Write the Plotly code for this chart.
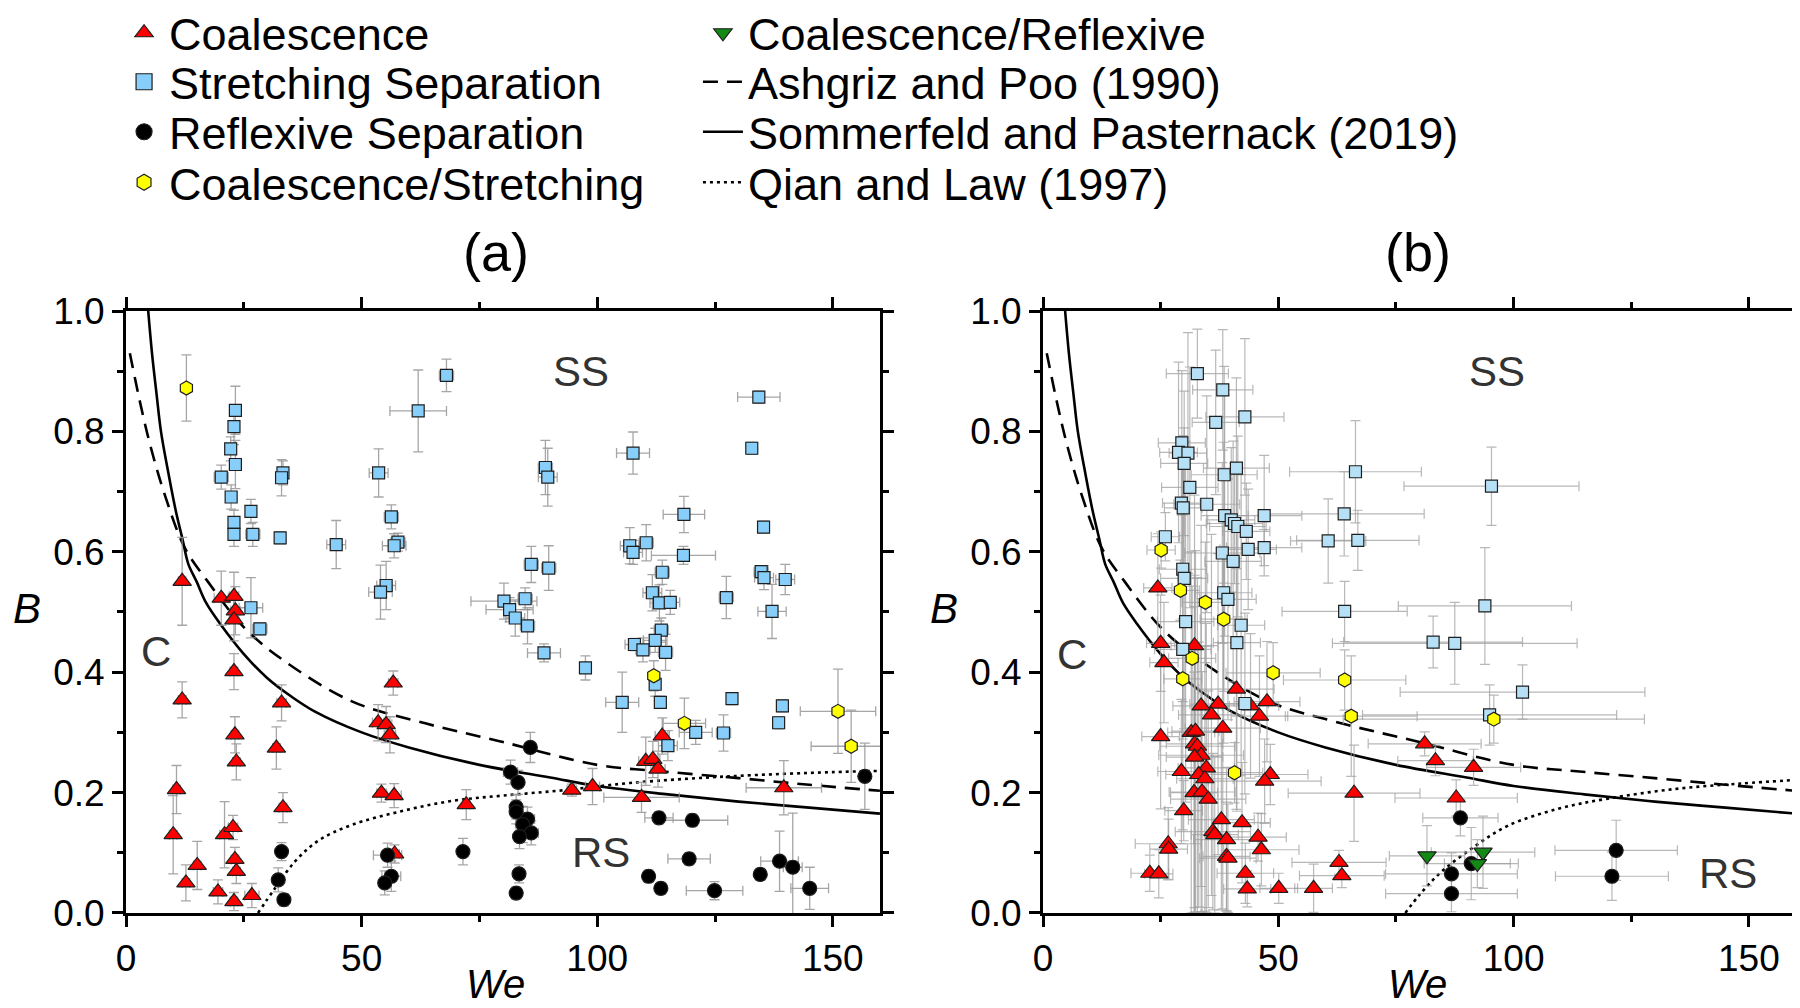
import plotly.graph_objects as go

FONT = 'Liberation Sans, Arial, sans-serif'

# ---- model curves (same in both panels except Qian & Law) ----
ashgriz_we = [0.8, 3.2, 5.3, 8.2, 12.5, 17.4, 25.2, 33.7, 47.8, 62, 80, 100, 114, 130, 145, 160]
ashgriz_b = [0.93, 0.84, 0.772, 0.695, 0.606, 0.55, 0.473, 0.418, 0.352, 0.318, 0.284, 0.246,
             0.235, 0.224, 0.213, 0.203]
sommerfeld_we = [4.7, 5.5, 6.5, 7.4, 9, 10.5, 12, 13.2, 15, 17, 20, 25, 30, 35, 40, 50, 60, 75,
                 90, 100, 115, 130, 145, 160]
sommerfeld_b = [1.0, 0.93, 0.86, 0.80, 0.73, 0.67, 0.62, 0.58, 0.55, 0.515, 0.48, 0.43, 0.39,
                0.36, 0.335, 0.30, 0.275, 0.246, 0.225, 0.211, 0.197, 0.185, 0.175, 0.165]
qian_a_we = [28.0, 31.6, 35.9, 40.8, 47.8, 58.4, 69, 80, 93, 107, 128, 150, 160]
qian_a_b = [0.0, 0.041, 0.086, 0.12, 0.146, 0.169, 0.186, 0.195, 0.204, 0.216, 0.227, 0.234, 0.236]
qian_b_we = [77, 80, 84.6, 91.8, 98.8, 109.4, 120, 134.3, 148.3, 160]
qian_b_b = [0.0, 0.03, 0.068, 0.111, 0.145, 0.173, 0.19, 0.206, 0.215, 0.221]

# ---- panel (a) ----
a_coal_we = [11.9, 20.2, 22.9, 23.2, 22.9, 22.9, 11.9, 33.0, 56.7, 53.5, 55.2, 56.0, 23.1, 31.9,
             23.4, 10.7, 33.3, 54.2, 56.9, 72.2, 10.0, 20.9, 22.7, 23.1, 23.4, 15.1, 12.7, 19.5,
             22.9, 26.7, 57.0, 113.8, 110.3, 111.8, 112.9, 94.6, 99.0, 109.4, 139.6]
a_coal_b = [0.551, 0.523, 0.526, 0.502, 0.487, 0.401, 0.354, 0.349, 0.382, 0.316, 0.313, 0.296,
            0.296, 0.274, 0.251, 0.205, 0.175, 0.199, 0.195, 0.180, 0.130, 0.130, 0.142, 0.089,
            0.069, 0.079, 0.050, 0.035, 0.019, 0.029, 0.098, 0.294, 0.252, 0.255, 0.239, 0.204,
            0.210, 0.192, 0.208]
a_coal_ex = [0.8, 1.5, 1.0, 1.0, 1.0, 0.8, 0.8, 1.0, 1.0, 1.2, 1.2, 1.2, 0.8, 0.8, 0.8, 0.8, 0.8,
             1.0, 1.5, 0.8, 0.8, 1.0, 1.0, 0.8, 0.8, 0.8, 0.8, 1.0, 0.8, 1.5, 1.0, 1.5, 1.5, 1.5,
             1.5, 1.0, 1.5, 8.0, 8.0]
a_coal_ey = [0.073, 0.045, 0.04, 0.04, 0.035, 0.03, 0.03, 0.03, 0.02, 0.03, 0.03, 0.03, 0.03,
             0.035, 0.03, 0.04, 0.025, 0.015, 0.02, 0.025, 0.065, 0.055, 0.02, 0.02, 0.02, 0.04,
             0.03, 0.02, 0.015, 0.02, 0.015, 0.03, 0.04, 0.03, 0.03, 0.01, 0.03, 0.025, 0.045]

a_ss_we = [23.2, 22.9, 22.2, 23.2, 20.2, 22.3, 26.5, 22.9, 22.9, 26.9, 32.7, 33.3, 33.0, 53.6,
           62.0, 68.0, 44.6, 56.3, 57.7, 56.9, 55.2, 54.0, 26.5, 28.4, 80.2, 81.4, 82.6, 85.2,
           84.7, 134.3, 132.8, 107.6, 89.0, 89.5, 118.4, 135.3, 106.9, 107.6, 110.4, 118.3,
           86.0, 89.7, 113.8, 134.8, 135.4, 139.9, 111.7, 113.2, 115.5, 127.4, 137.1, 113.6,
           88.7, 97.5, 112.3, 107.9, 109.7, 114.5, 112.3, 105.3, 113.4, 128.6, 139.3, 138.5,
           120.9, 126.8, 115.0]
a_ss_b = [0.835, 0.808, 0.771, 0.745, 0.724, 0.691, 0.667, 0.649, 0.629, 0.629, 0.623, 0.731,
          0.723, 0.731, 0.834, 0.893, 0.612, 0.658, 0.616, 0.610, 0.544, 0.533, 0.507, 0.472,
          0.518, 0.504, 0.490, 0.477, 0.522, 0.857, 0.772, 0.764, 0.740, 0.724, 0.662, 0.641,
          0.610, 0.599, 0.615, 0.594, 0.579, 0.573, 0.566, 0.567, 0.557, 0.554, 0.532, 0.515,
          0.516, 0.524, 0.501, 0.470, 0.432, 0.407, 0.453, 0.446, 0.437, 0.433, 0.380, 0.350,
          0.350, 0.356, 0.344, 0.316, 0.300, 0.299, 0.278]
a_ss_ex = [0.8, 0.8, 0.8, 0.8, 1.5, 0.8, 1.0, 0.8, 0.8, 1.5, 0.8, 0.8, 0.8, 2.0, 6.0, 1.5, 2.0,
           1.5, 1.5, 2.5, 2.0, 2.5, 2.5, 1.5, 7.0, 5.0, 2.0, 1.5, 1.5, 4.5, 1.0, 3.5, 1.5, 2.0,
           4.4, 1.0, 2.0, 2.0, 1.5, 6.8, 1.5, 1.5, 1.5, 1.5, 2.0, 2.0, 2.0, 2.0, 2.0, 1.5, 3.0,
           1.5, 3.5, 1.0, 2.5, 2.0, 1.5, 1.5, 1.0, 3.5, 1.0, 1.0, 1.0, 1.0, 3.5, 1.5, 2.0]
a_ss_ey = [0.04, 0.03, 0.02, 0.04, 0.02, 0.02, 0.02, 0.02, 0.02, 0.02, 0.01, 0.02, 0.03, 0.04,
           0.068, 0.027, 0.04, 0.02, 0.015, 0.02, 0.04, 0.045, 0.05, 0.01, 0.03, 0.02, 0.03,
           0.03, 0.018, 0.01, 0.01, 0.035, 0.045, 0.048, 0.03, 0.01, 0.03, 0.02, 0.03, 0.015,
           0.03, 0.037, 0.02, 0.01, 0.02, 0.025, 0.03, 0.03, 0.02, 0.035, 0.045, 0.02, 0.015,
           0.02, 0.02, 0.01, 0.02, 0.03, 0.02, 0.05, 0.01, 0.01, 0.01, 0.01, 0.02, 0.03, 0.025]

a_rs_we = [33.0, 32.3, 33.5, 55.5, 56.3, 54.9, 71.5, 81.6, 85.8, 83.2, 82.8, 82.8, 85.2, 84.2,
           86.0, 83.5, 83.4, 82.8, 113.1, 120.2, 119.5, 110.9, 113.5, 124.9, 134.6, 138.7,
           141.5, 145.1, 156.8]
a_rs_b = [0.102, 0.055, 0.022, 0.096, 0.061, 0.050, 0.102, 0.234, 0.275, 0.217, 0.176, 0.168,
          0.156, 0.147, 0.133, 0.127, 0.065, 0.033, 0.158, 0.154, 0.090, 0.061, 0.041, 0.037,
          0.064, 0.086, 0.076, 0.041, 0.227]
a_rs_ex = [0.8, 0.8, 0.8, 3.0, 2.0, 1.0, 0.8, 1.5, 1.0, 1.0, 1.0, 1.0, 1.5, 1.5, 1.5, 1.0, 1.0,
           1.0, 3.0, 7.5, 4.5, 1.0, 1.0, 6.0, 1.0, 4.0, 2.0, 4.0, 1.0]
a_rs_ey = [0.015, 0.02, 0.01, 0.02, 0.025, 0.02, 0.022, 0.02, 0.025, 0.02, 0.02, 0.02, 0.02,
           0.03, 0.02, 0.02, 0.015, 0.01, 0.01, 0.01, 0.01, 0.01, 0.01, 0.015, 0.01, 0.05, 0.09,
           0.035, 0.055]

a_cs_we = [12.8, 112.0, 118.5, 151.1, 153.9]
a_cs_b = [0.872, 0.394, 0.315, 0.335, 0.277]
a_cs_ex = [0.8, 1.0, 4.5, 8.0, 8.5]
a_cs_ey = [0.055, 0.025, 0.042, 0.07, 0.06]

# ---- panel (b) ----
b_coal_we = [24.4, 25.0, 25.7, 32.2, 41.1, 33.6, 37.2, 35.8, 38.2, 44.1, 47.6, 46.0, 25.0, 31.5,
             32.4, 32.2, 32.8, 33.6, 32.2, 29.4, 34.7, 33.1, 34.4, 48.3, 47.1, 32.1, 33.8, 35.1,
             66.1, 29.9, 37.9, 42.3, 36.1, 36.5, 39.0, 45.7, 46.4, 26.6, 26.7, 39.0, 39.3, 22.7,
             24.6, 43.0, 43.4, 50.1, 57.5, 62.9, 63.5, 81.1, 83.4, 91.5, 87.8]
b_coal_b = [0.540, 0.448, 0.416, 0.444, 0.372, 0.344, 0.347, 0.329, 0.307, 0.344, 0.351, 0.327,
            0.293, 0.300, 0.302, 0.281, 0.277, 0.262, 0.259, 0.235, 0.241, 0.230, 0.223, 0.230,
            0.219, 0.200, 0.201, 0.189, 0.199, 0.170, 0.155, 0.150, 0.135, 0.130, 0.122, 0.126,
            0.105, 0.115, 0.106, 0.094, 0.091, 0.066, 0.065, 0.066, 0.040, 0.041, 0.041, 0.084,
            0.062, 0.281, 0.253, 0.242, 0.191]
b_coal_ex = [3, 3, 3, 5, 8, 6, 6, 7, 8, 6, 7, 6, 4, 5, 5, 6, 8, 9, 6, 5, 6, 7, 6, 8, 12, 5, 7, 8,
             14, 4, 7, 6, 8, 5, 7, 6, 8, 7, 4, 5, 6, 4, 3, 6, 5, 4, 4, 10, 9, 12, 8, 10, 13]
b_coal_ey = [0.09, 0.08, 0.1, 0.25, 0.2, 0.3, 0.25, 0.3, 0.3, 0.12, 0.1, 0.1, 0.12, 0.3, 0.3,
             0.28, 0.28, 0.26, 0.25, 0.12, 0.24, 0.22, 0.22, 0.05, 0.07, 0.2, 0.2, 0.18, 0.08,
             0.05, 0.15, 0.1, 0.13, 0.13, 0.12, 0.04, 0.06, 0.06, 0.05, 0.09, 0.09, 0.03, 0.04,
             0.05, 0.03, 0.025, 0.04, 0.02, 0.02, 0.02, 0.025, 0.03, 0.03]

b_ss_we = [32.8, 38.2, 36.7, 42.9, 29.5, 28.8, 30.8, 30.0, 38.5, 41.1, 31.2, 29.4, 29.8, 34.8,
           38.6, 40.0, 40.7, 41.4, 43.2, 47.0, 64.0, 60.6, 66.9, 66.4, 26.0, 38.1, 40.4, 43.6,
           47.0, 29.7, 30.0, 38.4, 39.3, 64.1, 30.3, 42.1, 41.2, 29.7, 42.9, 82.9, 95.3, 93.9,
           87.5, 101.9, 94.9]
b_ss_b = [0.896, 0.869, 0.815, 0.824, 0.781, 0.765, 0.764, 0.747, 0.728, 0.739, 0.707, 0.681,
          0.673, 0.679, 0.660, 0.653, 0.647, 0.642, 0.634, 0.660, 0.663, 0.618, 0.619, 0.733,
          0.625, 0.598, 0.584, 0.604, 0.607, 0.571, 0.556, 0.532, 0.521, 0.501, 0.484, 0.478,
          0.449, 0.438, 0.348, 0.450, 0.709, 0.510, 0.448, 0.367, 0.329]
b_ss_ex = [6.6, 6.4, 5, 8.3, 5, 4, 4, 5, 7, 7, 6, 4, 4, 7, 5, 5, 6, 6, 5, 8, 17, 8, 13, 14, 3, 8,
           6, 6, 8, 5, 5, 6, 6, 13.3, 6, 5, 5, 6, 5, 19, 18.6, 18.4, 26, 26, 27]
b_ss_ey = [0.074, 0.1, 0.12, 0.13, 0.12, 0.15, 0.2, 0.12, 0.18, 0.15, 0.2, 0.1, 0.12, 0.18,
           0.2, 0.12, 0.1, 0.15, 0.08, 0.1, 0.07, 0.07, 0.05, 0.085, 0.04, 0.15, 0.2, 0.1, 0.03,
           0.22, 0.25, 0.25, 0.2, 0.05, 0.3, 0.25, 0.28, 0.3, 0.15, 0.043, 0.065, 0.097, 0.068,
           0.045, 0.05]

b_rs_we = [88.7, 91.0, 86.8, 86.8, 121.8, 120.9]
b_rs_b = [0.158, 0.082, 0.065, 0.032, 0.104, 0.061]
b_rs_ex = [8, 10, 14, 14, 13, 12]
b_rs_ey = [0.03, 0.06, 0.035, 0.03, 0.05, 0.04]

b_cs_we = [25.1, 29.2, 34.5, 38.4, 31.7, 29.7, 48.9, 64.1, 65.5, 40.7, 95.8]
b_cs_b = [0.603, 0.536, 0.516, 0.488, 0.423, 0.389, 0.399, 0.387, 0.327, 0.233, 0.322]
b_cs_ex = [3, 4, 5, 5, 5, 4, 10, 13, 14, 6, 32]
b_cs_ey = [0.03, 0.05, 0.1, 0.12, 0.12, 0.1, 0.05, 0.05, 0.1, 0.05, 0.04]

b_cr_we = [81.6, 93.5, 92.3]
b_cr_b = [0.095, 0.101, 0.082]
b_cr_ex = [8, 11, 7]
b_cr_ey = [0.05, 0.06, 0.04]

# tick labels
x_ticks = [0, 50, 100, 150]
y_ticks = [0.0, 0.2, 0.4, 0.6, 0.8, 1.0]

RED = '#ff0000'
SKY_A = '#87cefa'
SKY_B = '#b6e0f6'
YELLOW = '#ffff00'
GREEN = '#138a13'
EDGE = '#1e1e1e'


def add_errorbars(fig, we, b, ex, ey, xa, ya, color, thickness):
    fig.add_trace(
        go.Scatter(
            x=we,
            y=b,
            mode='markers',
            marker=dict(size=1, color='rgba(0,0,0,0)'),
            error_x=dict(type='data', array=ex, color=color, thickness=thickness, width=5),
            error_y=dict(type='data', array=ey, color=color, thickness=thickness, width=5),
            xaxis=xa,
            yaxis=ya,
            showlegend=False,
            hoverinfo='skip',
        )
    )


def add_markers(fig, we, b, name, symbol, color, size, xa, ya):
    fig.add_trace(
        go.Scatter(
            x=we,
            y=b,
            mode='markers',
            name=name,
            marker=dict(symbol=symbol, color=color, size=size, line=dict(color=EDGE, width=1.2)),
            xaxis=xa,
            yaxis=ya,
            showlegend=False,
        )
    )


def add_legend_marker(fig, name, symbol, color, legend):
    # legend-only entry (plotly caps legend marker size at 16)
    fig.add_trace(
        go.Scatter(
            x=[None],
            y=[None],
            mode='markers',
            name=name,
            marker=dict(symbol=symbol, color=color, size=16, line=dict(color=EDGE, width=1.2)),
            legend=legend,
            showlegend=True,
        )
    )


def add_curve(fig, we, b, name, dash, xa, ya, legend=None):
    fig.add_trace(
        go.Scatter(
            x=we,
            y=b,
            mode='lines',
            name=name,
            line=dict(color='black', width=2.6, dash=dash, shape='spline', smoothing=1.0),
            xaxis=xa,
            yaxis=ya,
            showlegend=legend is not None,
            legend=legend or 'legend',
            hoverinfo='skip',
        )
    )


def axis_params(domain, rng, tickvals, minor_dtick, anchor, fmt):
    return dict(
        domain=domain,
        range=rng,
        tickvals=tickvals,
        tickformat=fmt,
        showgrid=False,
        zeroline=False,
        showline=True,
        linecolor='black',
        linewidth=3,
        mirror='ticks',
        ticks='outside',
        ticklen=11,
        tickwidth=3,
        tickcolor='black',
        minor=dict(dtick=minor_dtick, tick0=0, ticks='outside', ticklen=6, tickwidth=2.5,
                   tickcolor='black', showgrid=False),
        tickfont=dict(family=FONT, size=37, color='black'),
        anchor=anchor,
        fixedrange=True,
    )


def legend_item(x, y):
    return dict(
        orientation='v',
        x=x,
        xanchor='left',
        y=y,
        yanchor='middle',
        itemwidth=40,
        font=dict(family=FONT, size=45, color='black'),
        bgcolor='rgba(0,0,0,0)',
        itemclick=False,
        itemdoubleclick=False,
    )


fig = go.Figure()

# curves underneath
add_curve(fig, ashgriz_we, ashgriz_b, 'Ashgriz and Poo (1990)', '15px,9px', 'x', 'y', 'legend6')
add_curve(fig, sommerfeld_we, sommerfeld_b, 'Sommerfeld and Pasternack (2019)', 'solid', 'x', 'y',
          'legend7')
add_curve(fig, qian_a_we, qian_a_b, 'Qian and Law (1997)', '3px,4px', 'x', 'y', 'legend8')
add_curve(fig, ashgriz_we, ashgriz_b, 'Ashgriz and Poo (1990)', '15px,9px', 'x2', 'y2')
add_curve(fig, sommerfeld_we, sommerfeld_b, 'Sommerfeld and Pasternack (2019)', 'solid', 'x2', 'y2')
add_curve(fig, qian_b_we, qian_b_b, 'Qian and Law (1997)', '3px,4px', 'x2', 'y2')

# error bars behind markers
GREY_A = 'rgba(150,150,150,0.85)'
GREY_B = 'rgba(160,160,160,0.75)'
for we, b, ex, ey in [
    (a_coal_we, a_coal_b, a_coal_ex, a_coal_ey),
    (a_ss_we, a_ss_b, a_ss_ex, a_ss_ey),
    (a_rs_we, a_rs_b, a_rs_ex, a_rs_ey),
    (a_cs_we, a_cs_b, a_cs_ex, a_cs_ey),
]:
    add_errorbars(fig, we, b, ex, ey, 'x', 'y', GREY_A, 1.3)
for we, b, ex, ey in [
    (b_coal_we, b_coal_b, b_coal_ex, b_coal_ey),
    (b_ss_we, b_ss_b, b_ss_ex, b_ss_ey),
    (b_rs_we, b_rs_b, b_rs_ex, b_rs_ey),
    (b_cs_we, b_cs_b, b_cs_ex, b_cs_ey),
    (b_cr_we, b_cr_b, b_cr_ex, b_cr_ey),
]:
    add_errorbars(fig, we, b, ex, ey, 'x2', 'y2', GREY_B, 1.2)

# panel (a) markers
add_markers(fig, a_coal_we, a_coal_b, 'Coalescence', 'triangle-up', RED, 16, 'x', 'y')
add_markers(fig, a_ss_we, a_ss_b, 'Stretching Separation', 'square', SKY_A, 12, 'x', 'y')
add_markers(fig, a_rs_we, a_rs_b, 'Reflexive Separation', 'circle', 'black', 14, 'x', 'y')
add_markers(fig, a_cs_we, a_cs_b, 'Coalescence/Stretching', 'hexagon', YELLOW, 14, 'x', 'y')

# panel (b) markers
add_markers(fig, b_coal_we, b_coal_b, 'Coalescence', 'triangle-up', RED, 16, 'x2', 'y2')
add_markers(fig, b_ss_we, b_ss_b, 'Stretching Separation', 'square', SKY_B, 12, 'x2', 'y2')
add_markers(fig, b_rs_we, b_rs_b, 'Reflexive Separation', 'circle', 'black', 14, 'x2', 'y2')
add_markers(fig, b_cs_we, b_cs_b, 'Coalescence/Stretching', 'hexagon', YELLOW, 14, 'x2', 'y2')
add_markers(fig, b_cr_we, b_cr_b, 'Coalescence/Reflexive', 'triangle-down', GREEN, 16, 'x2', 'y2')

# legend entries for the marker types
add_legend_marker(fig, 'Coalescence', 'triangle-up', RED, 'legend')
add_legend_marker(fig, 'Stretching Separation', 'square', SKY_A, 'legend2')
add_legend_marker(fig, 'Reflexive Separation', 'circle', 'black', 'legend3')
add_legend_marker(fig, 'Coalescence/Stretching', 'hexagon', YELLOW, 'legend4')
add_legend_marker(fig, 'Coalescence/Reflexive', 'triangle-down', GREEN, 'legend5')

# legend row centres, pixels from the top
ROWS = [1 - 25 / 1008, 1 - 74 / 1008, 1 - 124 / 1008, 1 - 174.5 / 1008]
LEFT_X = 0.0617
RIGHT_X = 0.3833

Y_DOM = [0.1022, 0.6994]
fig.update_layout(
    width=1800,
    height=1008,
    template='plotly_white',
    plot_bgcolor='white',
    paper_bgcolor='white',
    margin=dict(l=0, r=0, t=0, b=0, pad=0, autoexpand=False),
    xaxis=axis_params([0.0656, 0.4844], [0, 160], x_ticks, 25, 'y', 'd'),
    yaxis=axis_params(Y_DOM, [0, 1], y_ticks, 0.1, 'x', '.1f'),
    xaxis2=axis_params([0.575, 0.9933], [0, 160], x_ticks, 25, 'y2', 'd'),
    yaxis2=axis_params(Y_DOM, [0, 1], y_ticks, 0.1, 'x2', '.1f'),
    legend=legend_item(LEFT_X, ROWS[0]),
    legend2=legend_item(LEFT_X, ROWS[1]),
    legend3=legend_item(LEFT_X, ROWS[2]),
    legend4=legend_item(LEFT_X, ROWS[3]),
    legend5=legend_item(RIGHT_X, ROWS[0]),
    legend6=legend_item(RIGHT_X, ROWS[1]),
    legend7=legend_item(RIGHT_X, ROWS[2]),
    legend8=legend_item(RIGHT_X, ROWS[3]),
    hovermode=False,
)


def paper_text(text, x, y, size, italic=False, yanchor='middle'):
    return dict(
        text='<i>' + text + '</i>' if italic else text,
        x=x,
        y=y,
        xref='paper',
        yref='paper',
        showarrow=False,
        xanchor='center',
        yanchor=yanchor,
        borderpad=0,
        font=dict(family=FONT, size=size, color='black'),
    )


def region_text(text, we, b, xref, yref):
    return dict(
        text=text,
        x=we,
        y=b,
        xref=xref,
        yref=yref,
        showarrow=False,
        xanchor='center',
        yanchor='middle',
        font=dict(family=FONT, size=42, color='#333333'),
    )


fig.update_layout(
    annotations=[
        paper_text('(a)', 0.2711, 1 - 244 / 1008, 54),
        paper_text('(b)', 0.7833, 1 - 244 / 1008, 54),
        paper_text('We', 0.2706, 9 / 1008, 40, italic=True, yanchor='bottom'),
        paper_text('We', 0.7833, 9 / 1008, 40, italic=True, yanchor='bottom'),
        paper_text('B', 0.0108, 1 - 600 / 1008, 42, italic=True),
        paper_text('B', 0.5198, 1 - 600 / 1008, 42, italic=True),
        region_text('SS', 96.5, 0.9, 'x', 'y'),
        region_text('C', 6.4, 0.435, 'x', 'y'),
        region_text('RS', 100.7, 0.1, 'x', 'y'),
        region_text('SS', 96.5, 0.9, 'x2', 'y2'),
        region_text('C', 6.2, 0.43, 'x2', 'y2'),
        region_text('RS', 145.5, 0.065, 'x2', 'y2'),
    ]
)

fig.write_html('out.html')
